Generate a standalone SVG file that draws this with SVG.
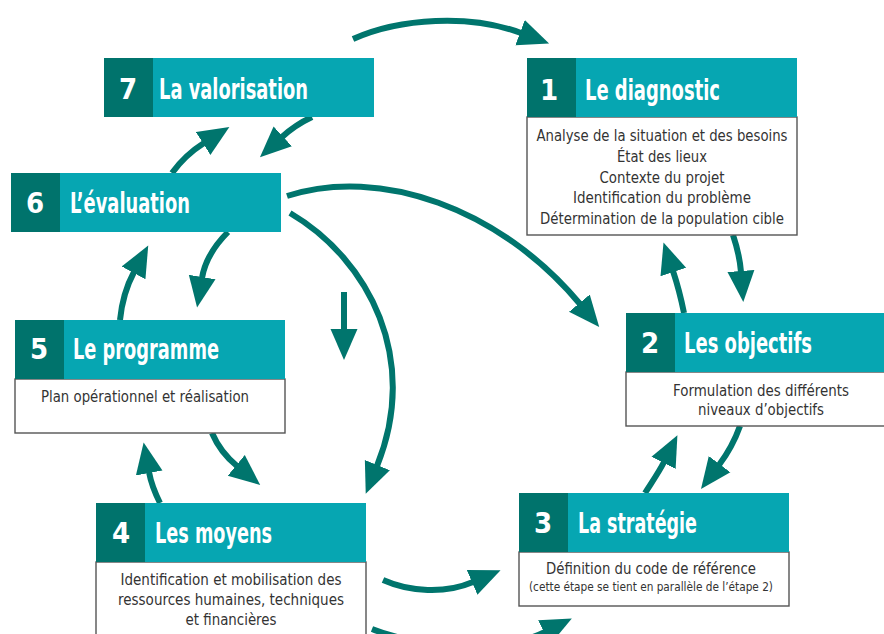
<svg xmlns="http://www.w3.org/2000/svg" width="884" height="634" viewBox="0 0 884 634">
<style>
.hd{fill:#06a6b2}
.nb{fill:#00736c}
.bd{fill:#fff;stroke:#555;stroke-width:1.4}
.ht{font-family:"Liberation Sans Narrow","DejaVu Sans Condensed","Liberation Sans",sans-serif;font-size:29px;font-weight:bold;fill:#fff}
.num{font-family:"Liberation Sans Narrow","DejaVu Sans Condensed","Liberation Sans",sans-serif;font-size:29px;font-weight:bold;fill:#fff;text-anchor:middle}
.bt{font-family:"Liberation Sans Narrow","DejaVu Sans Condensed","Liberation Sans",sans-serif;font-size:16.5px;fill:#333;text-anchor:middle}
.sm{font-size:12.5px}
.ar{fill:none;stroke:#00756d;stroke-width:6;marker-end:url(#ah)}
</style>
<defs>
<marker id="ah" markerUnits="userSpaceOnUse" markerWidth="32" markerHeight="30" viewBox="0 -15 32 30" refX="1" refY="0" orient="auto">
<path d="M0,-13.5 L31,0 L0,13.5 z" fill="#00756d"/>
</marker>
</defs>

<g id="connectors">
<path class="ar" d="M353,39 C400,18 470,14 521,33"/>
<path class="ar" d="M312,117 Q295,125 282,137"/>
<path class="ar" d="M172,173 Q185,155 204,143"/>
<path class="ar" d="M287,196 C380,166 500,208 580,304"/>
<path class="ar" d="M290,213 C370,260 420,360 377,466"/>
<path class="ar" d="M344,292 L344,330"/>
<path class="ar" d="M228,232 C215,245 205,260 202,278"/>
<path class="ar" d="M120,320 C122,300 127,285 134,272"/>
<path class="ar" d="M212,433 C218,447 226,457 237,466"/>
<path class="ar" d="M160,503 C155,493 151,483 149,472"/>
<path class="ar" d="M733,235 C737,247 740,259 741,272"/>
<path class="ar" d="M684,313 C681,298 677,283 673,271"/>
<path class="ar" d="M740,426 C735,440 728,453 719,465"/>
<path class="ar" d="M645,493 C652,482 659,472 664,462"/>
<path class="ar" d="M383,580 C410,592 445,594 473,582"/>
<path class="ar" d="M372,629 C420,648 505,652 545,632"/>
</g>

<g id="node7">
<rect class="hd" x="104" y="58" width="270" height="59"/>
<rect class="nb" x="104" y="58" width="49" height="59"/>
<text class="num" x="128" y="99">7</text>
<text class="ht" x="159" y="99" textLength="149" lengthAdjust="spacingAndGlyphs">La valorisation</text>
</g>

<g id="node6">
<rect class="hd" x="11" y="173" width="270" height="59"/>
<rect class="nb" x="11" y="173" width="49" height="59"/>
<text class="num" x="35" y="213">6</text>
<text class="ht" x="70" y="213" textLength="120" lengthAdjust="spacingAndGlyphs">L’évaluation</text>
</g>

<g id="node1">
<rect class="bd" x="527" y="117" width="270" height="118"/>
<rect class="hd" x="527" y="58" width="270" height="59"/>
<rect class="nb" x="527" y="58" width="49" height="59"/>
<text class="num" x="549" y="100">1</text>
<text class="ht" x="585" y="100" textLength="135" lengthAdjust="spacingAndGlyphs">Le diagnostic</text>
<text class="bt" x="662" y="141" textLength="251" lengthAdjust="spacingAndGlyphs">Analyse de la situation et des besoins</text>
<text class="bt" x="662" y="162" textLength="90" lengthAdjust="spacingAndGlyphs">État des lieux</text>
<text class="bt" x="662" y="183" textLength="125" lengthAdjust="spacingAndGlyphs">Contexte du projet</text>
<text class="bt" x="662" y="203" textLength="178" lengthAdjust="spacingAndGlyphs">Identification du problème</text>
<text class="bt" x="662" y="224" textLength="244" lengthAdjust="spacingAndGlyphs">Détermination de la population cible</text>
</g>

<g id="node2">
<rect class="bd" x="626" y="372" width="270" height="54"/>
<rect class="hd" x="626" y="313" width="270" height="59"/>
<rect class="nb" x="626" y="313" width="49" height="59"/>
<text class="num" x="650" y="353">2</text>
<text class="ht" x="684" y="353" textLength="128" lengthAdjust="spacingAndGlyphs">Les objectifs</text>
<text class="bt" x="761" y="396" textLength="176" lengthAdjust="spacingAndGlyphs">Formulation des différents</text>
<text class="bt" x="761" y="415" textLength="126" lengthAdjust="spacingAndGlyphs">niveaux d’objectifs</text>
</g>

<g id="node3">
<rect class="bd" x="519" y="552" width="270" height="54"/>
<rect class="hd" x="519" y="493" width="270" height="59"/>
<rect class="nb" x="519" y="493" width="49" height="59"/>
<text class="num" x="543" y="533">3</text>
<text class="ht" x="578" y="533" textLength="119" lengthAdjust="spacingAndGlyphs">La stratégie</text>
<text class="bt" x="651" y="574" textLength="210" lengthAdjust="spacingAndGlyphs">Définition du code de référence</text>
<text class="bt sm" x="651" y="591" textLength="244" lengthAdjust="spacingAndGlyphs">(cette étape se tient en parallèle de l’étape 2)</text>
</g>

<g id="node4">
<rect class="bd" x="96" y="562" width="270" height="80"/>
<rect class="hd" x="96" y="503" width="270" height="59"/>
<rect class="nb" x="96" y="503" width="49" height="59"/>
<text class="num" x="121" y="543">4</text>
<text class="ht" x="155" y="543" textLength="117" lengthAdjust="spacingAndGlyphs">Les moyens</text>
<text class="bt" x="231" y="585" textLength="221" lengthAdjust="spacingAndGlyphs">Identification et mobilisation des</text>
<text class="bt" x="231" y="605" textLength="226" lengthAdjust="spacingAndGlyphs">ressources humaines, techniques</text>
<text class="bt" x="231" y="625" textLength="91" lengthAdjust="spacingAndGlyphs">et financières</text>
</g>

<g id="node5">
<rect class="bd" x="15" y="379" width="270" height="54"/>
<rect class="hd" x="15" y="320" width="270" height="59"/>
<rect class="nb" x="15" y="320" width="49" height="59"/>
<text class="num" x="39" y="359">5</text>
<text class="ht" x="73" y="359" textLength="146" lengthAdjust="spacingAndGlyphs">Le programme</text>
<text class="bt" x="145" y="402" textLength="208" lengthAdjust="spacingAndGlyphs">Plan opérationnel et réalisation</text>
</g>
</svg>
